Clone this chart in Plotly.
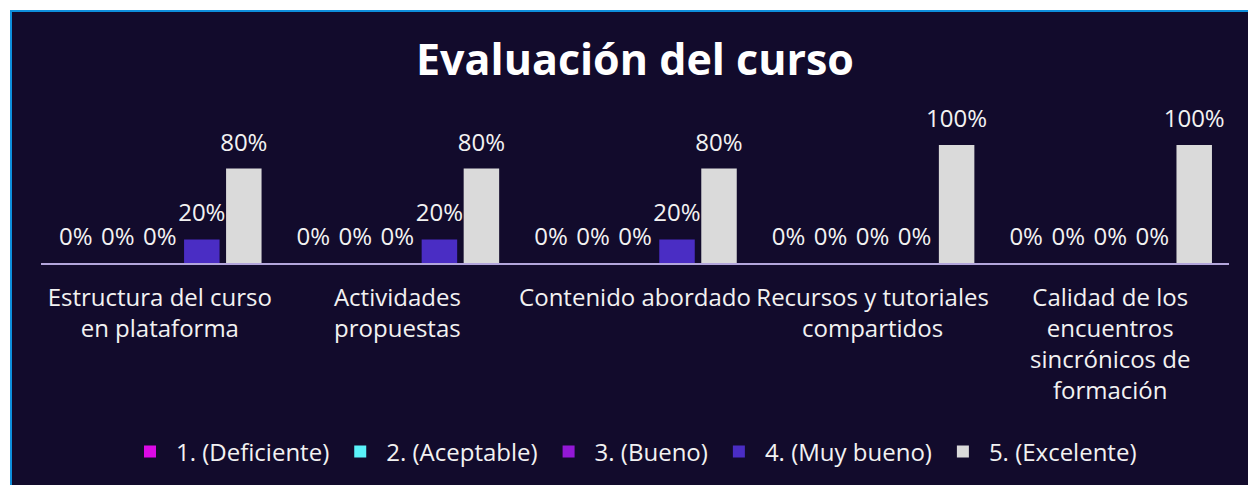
import plotly.graph_objects as go

categories = ["Estructura del curso<br>en plataforma", "Actividades<br>propuestas",
              "Contenido abordado", "Recursos y tutoriales<br>compartidos",
              "Calidad de los<br>encuentros<br>sincrónicos de<br>formación"]
series_names = ["1. (Deficiente)", "2. (Aceptable)", "3. (Bueno)", "4. (Muy bueno)", "5. (Excelente)"]
s1 = [0, 0, 0, 0, 0]
s2 = [0, 0, 0, 0, 0]
s3 = [0, 0, 0, 0, 0]
s4 = [20, 20, 20, 0, 0]
s5 = [80, 80, 80, 100, 100]
series_values = [s1, s2, s3, s4, s5]
colors = ["#dc0ae6", "#5af2fa", "#9318d6", "#4a2dc4", "#dadada"]

W, H = 1248, 485
ML, MR, MT, MB = 41, 19, 100, 222
PW, PH = W - ML - MR, H - MT - MB

def px_x(px):
    return (px - ML) / PW

def px_y(py):
    return (H - MB - py) / PH

BG = "#120b2c"
TXT = "#f2f2f2"
FONT = "Open Sans"
FS = 24

fig = go.Figure()
for name, vals, col in zip(series_names, series_values, colors):
    fig.add_trace(go.Bar(x=categories, y=vals, name=name, marker=dict(color=col, line=dict(width=0)),
                         hoverinfo="skip"))
for name, vals in zip(series_names, series_values):
    fig.add_trace(go.Scatter(x=categories, y=vals, mode="markers+text",
                             text=[f"{v}%" for v in vals], textposition="top center",
                             textfont=dict(family=FONT, size=FS, color=TXT),
                             marker=dict(size=17.6, opacity=0), showlegend=False,
                             hoverinfo="skip", cliponaxis=False))

fig.update_layout(
    width=W, height=H,
    margin=dict(l=ML, r=MR, t=MT, b=MB),
    paper_bgcolor="white", plot_bgcolor=BG,
    barmode="group", bargap=0.116, bargroupgap=0.155,
    scattermode="group", scattergap=0.116,
    title=dict(text="<b>Evaluación del curso</b>", x=px_x(635), xref="paper", xanchor="center",
               y=1 - 60 / H, yref="container", yanchor="middle",
               font=dict(family=FONT, size=43, color="white")),
    font=dict(family=FONT, color=TXT),
    legend=dict(orientation="h", x=px_x(633), xanchor="center", xref="paper",
                y=1 - 452 / H, yref="container", yanchor="middle",
                font=dict(family=FONT, size=FS, color=TXT), bgcolor="rgba(0,0,0,0)",
                itemwidth=42, tracegroupgap=0),
    showlegend=True,
    shapes=[dict(type="rect", xref="paper", yref="paper", layer="below",
                 x0=px_x(11), x1=px_x(1270), y0=px_y(11), y1=px_y(510),
                 fillcolor=BG, line=dict(color="#0e8fdc", width=2))],
    xaxis=dict(showline=True, linecolor="#b3a6dc", linewidth=2, showgrid=False, zeroline=False,
               ticks="", tickfont=dict(family=FONT, size=FS, color=TXT), ticklabelstandoff=12,
               fixedrange=True),
    yaxis=dict(range=[0, PH / 118 * 100], visible=False, showgrid=False, zeroline=False,
               fixedrange=True),
)

fig.write_html("out.html", config={"displayModeBar": False},
               post_script="document.body.style.margin='0px';")
